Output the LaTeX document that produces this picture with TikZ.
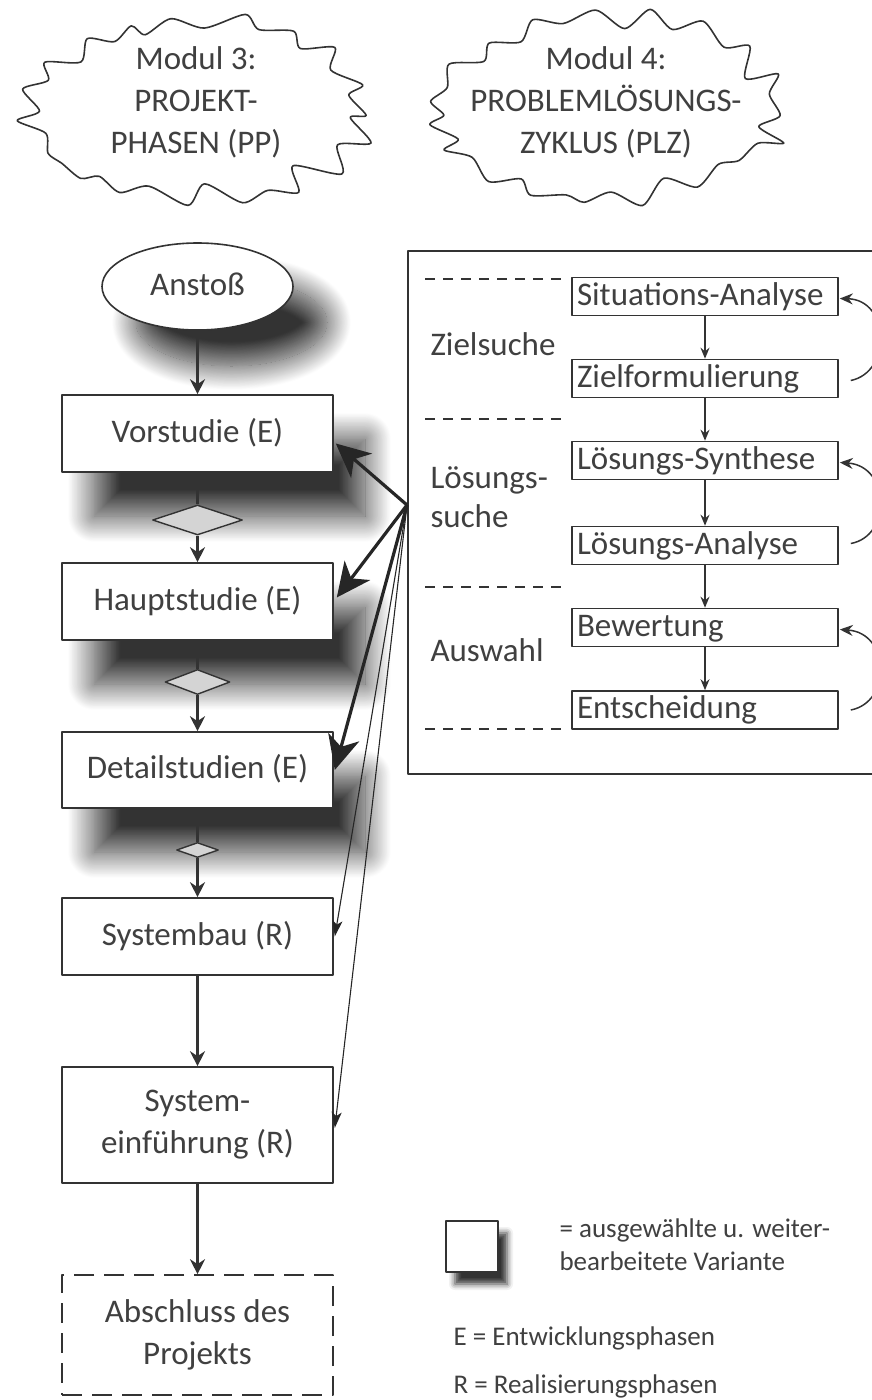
\documentclass[tikz,border=0pt]{standalone}
\usepackage{fontspec}
\setmainfont{Carlito}
\usetikzlibrary{shapes.geometric,arrows.meta,shadows.blur,calc}
\definecolor{ink}{HTML}{333333}
\definecolor{txt}{HTML}{404040}
\definecolor{dia}{HTML}{D4D4D4}

\begin{document}
\begin{tikzpicture}[x=1pt,y=-1pt,
  line join=round,
  every node/.style={text=txt},
  big/.style={font=\fontsize{33}{42}\selectfont},
  small/.style={font=\fontsize{27}{33}\selectfont},
  phase/.style={draw=ink, line width=1.6pt, fill=white, minimum width=271pt, big, align=center},
  oneline/.style={text height=24pt, text depth=7pt},
  shade/.style={blur shadow={shadow xshift=32pt, shadow yshift=-44pt, shadow blur radius=26pt, shadow blur steps=32, shadow opacity=80}},
  gate/.style={diamond, draw=ink, line width=1.4pt, fill=dia, inner sep=0pt},
  flow/.style={draw=ink, line width=2.2pt, -{Stealth[length=15pt,width=15pt]}},
  plzbox/.style={draw=ink, line width=1.6pt, fill=white, minimum width=266pt, minimum height=38pt,
    inner xsep=5pt, inner ysep=0pt, text width=256pt, align=left, big, oneline},
  plzflow/.style={draw=ink, line width=1.5pt, -{Stealth[length=11pt,width=9pt]}},
  loop/.style={draw=ink, line width=1.5pt, -{Stealth[length=13pt,width=11pt]}},
  sep/.style={draw=ink, line width=1.5pt, dash pattern=on 10pt off 8pt},
  fanthick/.style={draw=black!85, line width=3.2pt, -{Stealth[length=34pt,width=32pt,inset=10pt]}},
  fanthin/.style={draw=black!85, line width=1.1pt, -{Stealth[length=16pt,width=10pt,inset=4pt]}},
  cloudline/.style={draw=ink, line width=1.6pt}
]
\useasboundingbox (0,0) rectangle (872,1400);
\pgfmathsetseed{23}

% module clouds: jagged outline, alternating outer and inner points round an ellipse
\draw[cloudline] plot[smooth cycle, tension=0.45, domain=0:37, samples=38, variable=\i]
  ({196+(178-18*mod(round(\i),2)+9*rand)*cos(\i*360/38+4*rand)},
   {110+(96-15*mod(round(\i),2)+7*rand)*sin(\i*360/38+4*rand)});
\node[big, align=center] (m3) at (196,102) {Modul 3:\\PROJEKT-\\PHASEN (PP)};
\draw[cloudline] plot[smooth cycle, tension=0.45, domain=0:37, samples=38, variable=\i]
  ({606+(180-18*mod(round(\i),2)+9*rand)*cos(\i*360/38+4*rand)},
   {110+(96-15*mod(round(\i),2)+7*rand)*sin(\i*360/38+4*rand)});
\node[big, align=center] (m4) at (606,102) {Modul 4:\\PROBLEMLÖSUNGS-\\ZYKLUS (PLZ)};

% project phases
\node[ellipse, draw=ink, line width=1.6pt, fill=white, minimum width=191pt, minimum height=87pt, big, oneline,
  blur shadow={shadow xshift=34pt, shadow yshift=-36pt, shadow blur radius=24pt, shadow blur steps=32, shadow opacity=80}]
  (an) at (197.5,286.5) {Anstoß};
\node[phase, shade, oneline, minimum height=77pt] (vs) at (197.5,433.5) {Vorstudie (E)};
\node[gate, minimum width=90pt, minimum height=30pt] (d1) at (197.5,520) {};
\node[phase, shade, oneline, minimum height=77pt] (hs) at (197.5,601.5) {Hauptstudie (E)};
\node[gate, minimum width=65pt, minimum height=25pt] (d2) at (197.5,682) {};
\node[phase, shade, oneline, minimum height=76pt] (ds) at (197.5,770) {Detailstudien (E)};
\node[gate, minimum width=42pt, minimum height=15pt] (d3) at (197.5,850) {};
\node[phase, oneline, minimum height=77pt] (sb) at (197.5,936.5) {Systembau (R)};
\node[phase, minimum height=116pt] (se) at (197.5,1125) {System-\\einführung (R)};
\node[phase, dash pattern=on 20pt off 10pt, minimum height=120pt] (ab) at (197.5,1335) {Abschluss des\\Projekts};

\draw[flow] (an) -- (vs);
\draw[draw=ink, line width=2.2pt] (vs) -- (d1);
\draw[flow] (d1) -- (hs);
\draw[draw=ink, line width=2.2pt] (hs) -- (d2);
\draw[flow] (d2) -- (ds);
\draw[draw=ink, line width=2.2pt] (ds) -- (d3);
\draw[flow] (d3) -- (sb);
\draw[flow] (sb) -- (se);
\draw[flow] (se) -- (ab);

% problem solving cycle
\node[draw=ink, line width=1.5pt, anchor=north west, minimum width=480pt, minimum height=523pt] (panel) at (407,250) {};
\node[plzbox] (sa) at (705,296.5) {Situations-Analyse};
\node[plzbox] (zf) at (705,378.5) {Zielformulierung};
\node[plzbox] (ls) at (705,460.5) {Lösungs-Synthese};
\node[plzbox] (la) at (705,545.5) {Lösungs-Analyse};
\node[plzbox] (bw) at (705,627.5) {Bewertung};
\node[plzbox] (en) at (705,710) {Entscheidung};

\draw[plzflow] (sa) -- (zf);
\draw[plzflow] (zf) -- (ls);
\draw[plzflow] (ls) -- (la);
\draw[plzflow] (la) -- (bw);
\draw[plzflow] (bw) -- (en);

\draw[loop] ([xshift=12pt,yshift=-2pt]zf.east) .. controls (892,372) and (890,300) .. ([xshift=1pt,yshift=-2pt]sa.east);
\draw[loop] ([xshift=12pt,yshift=2pt]la.east) .. controls (892,536) and (890,466) .. ([xshift=1pt,yshift=-2pt]ls.east);
\draw[loop] ([xshift=12pt,yshift=0pt]en.east) .. controls (892,702) and (890,633) .. ([xshift=1pt,yshift=-2pt]bw.east);

\coordinate (s1a) at (425,279); \coordinate (s1b) at (567,279);
\coordinate (s2a) at (425,419); \coordinate (s2b) at (567,419);
\coordinate (s3a) at (425,587); \coordinate (s3b) at (567,587);
\coordinate (s4a) at (425,729); \coordinate (s4b) at (567,729);
\draw[sep] (s1a) -- (s1b);
\draw[sep] (s2a) -- (s2b);
\draw[sep] (s3a) -- (s3b);
\draw[sep] (s4a) -- (s4b);

\node[big, anchor=base west] (ziel) at (427,355) {Zielsuche};
\node[big, anchor=base west] (loes) at (427,488) {Lösungs-};
\node[big, anchor=base west] (loes2) at (427,527) {suche};
\node[big, anchor=base west] (ausw) at (427,661) {Auswahl};

% links from the cycle to the phases
\coordinate (fan) at (407,505);
\draw[fanthick] (fan) -- ([xshift=2pt,yshift=-10pt]vs.east);
\draw[fanthick] (fan) -- ([xshift=3pt,yshift=4pt]hs.east);
\draw[fanthick] (fan) -- ([xshift=1pt]ds.east);
\draw[fanthin] (fan) -- ([xshift=1pt]sb.east);
\draw[fanthin] (fan) -- ([xshift=1pt,yshift=-3pt]se.east);

% legend
\node[draw=ink, line width=1.5pt, fill=white, minimum width=52pt, minimum height=51pt,
  blur shadow={shadow xshift=9pt, shadow yshift=-12pt, shadow blur radius=6pt, shadow opacity=80}]
  (leg) at (472,1246.5) {};
\node[small, anchor=base west] (leg1) at (556,1237) {= ausgewählte u. weiter-};
\node[small, anchor=base west] (leg2) at (556,1270) {bearbeitete Variante};
\node[small, anchor=base west] (legE) at (450,1345) {E = Entwicklungsphasen};
\node[small, anchor=base west] (legR) at (450,1393) {R = Realisierungsphasen};
\end{tikzpicture}
\end{document}
